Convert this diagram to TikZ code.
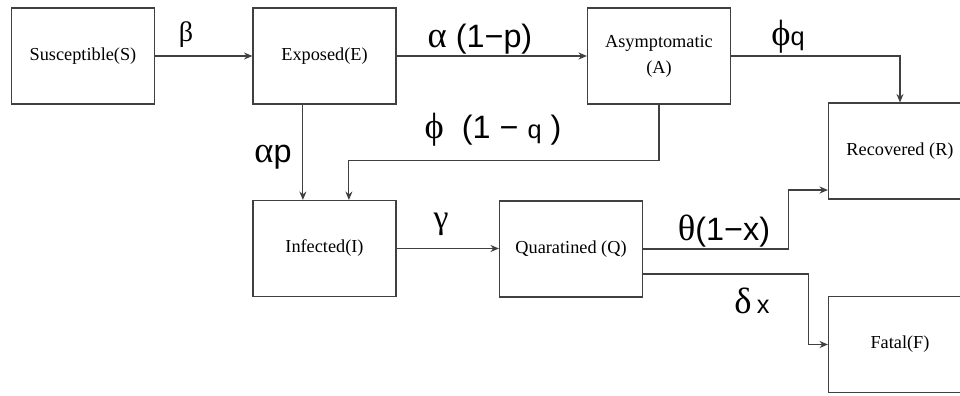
\documentclass[tikz,border=0pt]{standalone}
\usepackage{fontspec}
\setmainfont{Liberation Serif}
\newfontfamily\ratefont{Liberation Sans}
\usetikzlibrary{arrows.meta}
\newcommand{\gr}[1]{{\rmfamily\fontsize{26}{28}\selectfont #1}}
\newcommand{\sm}[1]{{\fontsize{18}{20}\selectfont #1}}

\begin{document}
\begin{tikzpicture}[x=0.025cm,y=-0.025cm,
    compartment/.style={draw=black!75,line width=0.8pt,rectangle,minimum width=3.575cm,
      minimum height=2.4cm,inner sep=0pt,align=center,font=\fontsize{13}{18.5}\selectfont},
    flow/.style={draw=black!75,line width=0.8pt,-{Stealth[length=6pt,width=5pt]}},
    rate/.style={inner sep=0pt,font=\ratefont\fontsize{23}{25}\selectfont}]
  \clip (0,0) rectangle (960,395);
  % compartments
  \node[compartment] (S) at (83,56) {Susceptible(S)};
  \node[compartment] (E) at (324.5,56) {Exposed(E)};
  \node[compartment] (A) at (659,56) {Asymptomatic\\(A)};
  \node[compartment] (R) at (900,151) {Recovered (R)};
  \node[compartment] (I) at (324.5,248.5) {Infected(I)};
  \node[compartment] (Q) at (571,249) {Quaratined (Q)};
  \node[compartment] (F) at (900,344.5) {Fatal(F)};
  % flows
  \draw[flow] (S) -- (E);
  \draw[flow] (E) -- (A);
  \draw[flow] (A.east) -| (R.north);
  \draw[flow] ([xshift=-0.54cm]E.south) -- ([xshift=-0.54cm]I.north);
  \draw[flow] (A.south) -- ++(0,56) -| ([xshift=0.61cm]I.north);
  \draw[flow] (I.east) -- (I.east -| Q.west);
  \draw[flow] (Q.east) -- ++(145,0) |- ([yshift=-0.975cm]R.west);
  \draw[flow] ([yshift=-0.625cm]Q.east) -- ++(165,0) |- (F.west);
  % rates
  \node[rate] (beta) at (186,35) {{\rmfamily\fontsize{20}{22}\selectfont β}};
  \node[rate] (alphaq) at (480,39) {\gr{α} (1−p)};
  \node[rate] (phiq) at (788,37) {\gr{ϕ}\sm{q}};
  \node[rate] (phinq) at (493,130) {\gr{ϕ}\; (1 − \sm{q} )};
  \node[rate] (alphap) at (273,157) {\gr{α}p};
  \node[rate] (gamma) at (441,224) {{\rmfamily\fontsize{24}{26}\selectfont γ}};
  \node[rate] (thetax) at (724,231) {\gr{θ}(1−x)};
  \node[rate] (deltax) at (752,301) {\gr{δ}\,\sm{x}};
\end{tikzpicture}
\end{document}
